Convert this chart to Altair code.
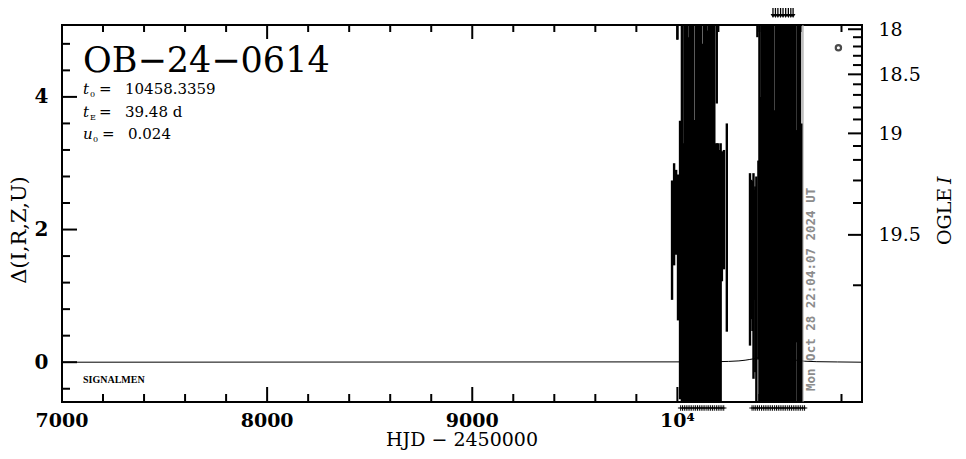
import altair as alt
import pandas as pd

# ---------------- data ----------------
# season 1 photometry: HJD-2450000, Delta flux, error
c1_hjd = [9974, 9984, 9994, 10000, 10003, 10013, 10022, 10028, 10034, 10040, 10047, 10053, 10059, 10066,
          10072, 10078, 10085, 10091, 10097, 10104, 10110, 10116, 10123, 10129, 10135, 10142, 10148, 10154,
          10161, 10167, 10173, 10180, 10186, 10192, 10194, 10199, 10205, 10211, 10217, 10227, 10241]
c1_delta = [1.84, 2.23, 2.26, 6.50, 1.73, 1.54, 2.30, 1.20, 2.40, 2.10, 2.60, 1.90, 2.20, 2.50,
            2.00, 2.30, 1.40, 2.40, 2.10, 2.70, 2.00, 2.30, 1.80, 2.50, 2.20, 2.40, 1.90, 2.60,
            2.10, 2.30, 2.00, 2.40, 1.30, 5.50, 1.20, 1.40, 1.00, 1.10, 2.20, 2.30, 2.03]
c1_err = [0.90, 0.77, 0.64, 1.64, 1.10, 2.10, 3.40, 2.10, 3.50, 3.30, 3.60, 3.00, 3.40, 3.70,
          3.10, 3.60, 2.25, 3.50, 3.20, 3.90, 3.30, 3.50, 3.00, 3.60, 3.40, 3.70, 3.10, 3.80,
          3.30, 3.50, 3.20, 3.60, 2.00, 1.60, 2.10, 1.90, 2.20, 2.20, 0.98, 0.90, 1.57]

# season 2 photometry
c2_hjd = [10354, 10360, 10366, 10371, 10376, 10380, 10385, 10390, 10395, 10400, 10405, 10410,
          10417, 10423, 10430, 10436, 10442, 10449, 10455, 10461, 10468, 10474,
          10480, 10487, 10493, 10499, 10506, 10512, 10518, 10525, 10531, 10537,
          10544, 10550, 10556, 10563, 10569, 10576,
          10583, 10588, 10592, 10598, 10604]
c2_delta = [1.55, 1.70, 1.60, 1.30, 1.77, 1.25, 1.10, 6.00, 1.54, 2.20, 1.60, 2.30,
            2.30, 2.00, 2.50, 2.20, 2.40, 2.10, 2.60, 2.30, 2.00, 1.60,
            2.40, 2.20, 2.50, 2.10, 2.30, 2.60, 2.00, 2.40, 2.20, 2.50,
            2.10, 2.30, 2.40, 2.00, 2.30, 2.20,
            1.90, 2.40, 1.40, 2.30, 1.50]
c2_err = [1.30, 1.05, 1.13, 1.55, 0.83, 1.40, 1.70, 1.10, 1.50, 2.90, 2.40, 3.40,
          3.50, 3.30, 3.60, 3.40, 3.70, 3.30, 3.80, 3.50, 3.20, 2.20,
          3.60, 3.40, 3.70, 3.30, 3.50, 3.80, 3.20, 3.60, 3.40, 3.70,
          3.30, 3.50, 3.60, 3.20, 3.50, 3.40,
          1.60, 3.50, 1.60, 3.40, 2.10]

# points above the plotted range (arrows) and below it (crosses)
high_hjd = [10466, 10478, 10490, 10503, 10515, 10528, 10541, 10553, 10564]
low_hjd = [10016, 10025, 10034, 10043, 10052, 10061, 10070, 10080, 10089, 10098, 10107, 10116,
           10125, 10134, 10144, 10153, 10162, 10171, 10180, 10190, 10199, 10208, 10217, 10226,
           10364, 10373, 10382, 10391, 10400, 10410, 10419, 10428, 10437, 10446, 10455, 10464,
           10474, 10483, 10492, 10501, 10510, 10519, 10528, 10538, 10547, 10556, 10565, 10574,
           10583, 10592, 10601, 10611, 10620]

# model curve
model_hjd = [7000, 10150, 10250, 10300, 10330, 10350, 10370, 10390, 10410, 10430, 10445, 10452, 10456,
             10458, 10460, 10464, 10471, 10486, 10506, 10530, 10560, 10590, 10620, 10680, 10780, 10900]
model_delta = [0.0, 0.005, 0.012, 0.02, 0.03, 0.04, 0.05, 0.065, 0.1, 0.3, 0.7, 1.8, 5.0,
               9.0, 5.0, 1.8, 0.8, 0.3, 0.14, 0.07, 0.04, 0.025, 0.015, 0.008, 0.004, 0.0]

# OGLE marker and "now" line
marker_hjd = [10785]
marker_delta = [4.74]
now_hjd = [10612]
now_text = ["Mon Oct 28 22:04:07 2024 UT"]

# axes
x_major = [7000, 8000, 9000, 10000]
x_major_labels = ["7000", "8000", "9000", "10\u2074"]
x_minor = [7200, 7400, 7600, 7800, 8200, 8400, 8600, 8800, 9200, 9400, 9600, 9800,
           10200, 10400, 10600, 10800]
y_major = [0, 2, 4]
y_minor = [-0.4, 0.4, 0.8, 1.2, 1.6, 2.4, 2.8, 3.2, 3.6, 4.4, 4.8]
ogle_mag = [18.0, 18.1, 18.2, 18.3, 18.4, 18.5, 18.6, 18.7, 18.8, 18.9,
            19.0, 19.1, 19.2, 19.3, 19.4, 19.5, 19.6]
ogle_delta = [5.02, 4.90, 4.76, 4.62, 4.48, 4.34, 4.19, 4.03, 3.84, 3.66,
              3.45, 3.26, 3.05, 2.74, 2.40, 1.92, 1.16]
ogle_major_labels = ["18", "18.5", "19", "19.5"]

x_title = "HJD \u2212 2450000"
y_title = "\u0394(I,R,Z,U)"
event_name = "OB\u221224\u22120614"
param_sym = ["t", "t", "u"]
param_sub = ["0", "E", "0"]
param_val = ["10458.3359", "39.48 d", "0.024"]
survey_name = "SIGNALMEN"

# ---------------- build ----------------
W, H = 800, 377
SERIF = "DejaVu Serif"
xs = alt.Scale(domain=[7000, 10900], nice=False, zero=False)
ys = alt.Scale(domain=[-0.6, 5.084], nice=False, zero=False)

phot = pd.DataFrame({
    "hjd": c1_hjd + c2_hjd,
    "delta": c1_delta + c2_delta,
    "err": c1_err + c2_err,
})
phot["lo"] = phot["delta"] - phot["err"]
phot["hi"] = phot["delta"] + phot["err"]

left_axis = alt.Axis(values=y_major, format="d", orient="left",
                     ticks=False, tickSize=0, domain=False, grid=False,
                     labelFont=SERIF, labelFontWeight="bold", labelFontSize=20, labelColor="black",
                     labelPadding=14, title=None)

major_pos = [d for m, d in zip(ogle_mag, ogle_delta) if ("%g" % m) in ogle_major_labels]
minor_pos = [d for m, d in zip(ogle_mag, ogle_delta) if ("%g" % m) not in ogle_major_labels]
right_expr = " : ".join(
    f"abs(datum.value - {d}) < 0.005 ? '{lab}'" for d, lab in zip(major_pos, ogle_major_labels)
) + " : ''"
right_axis = alt.Axis(values=major_pos, orient="right", labelExpr=right_expr,
                      ticks=False, tickSize=0, domain=False, grid=False,
                      labelFont=SERIF, labelFontSize=19, labelColor="black",
                      labelPadding=16, title=None)

bars = alt.Chart(phot).mark_rule(clip=True, color="black", strokeWidth=2.4).encode(
    x=alt.X("hjd:Q", scale=xs, axis=None),
    y=alt.Y("lo:Q", scale=ys, axis=left_axis),
    y2="hi:Q",
)

model = alt.Chart(pd.DataFrame({"hjd": model_hjd, "d": model_delta})).mark_line(
    clip=True, color="black", strokeWidth=1).encode(
    x=alt.X("hjd:Q", scale=xs, axis=None),
    y=alt.Y("d:Q", scale=ys, axis=None),
)

now_df = pd.DataFrame({"hjd": now_hjd, "t": now_text})
now_line = alt.Chart(now_df).mark_rule(color="#a0a0a0", strokeWidth=1.2).encode(
    x=alt.X("hjd:Q", scale=xs, axis=None),
    y=alt.value(0), y2=alt.value(H),
)
now_label = alt.Chart(now_df).mark_text(
    angle=270, align="left", baseline="top", dy=2, font="DejaVu Sans Mono",
    fontWeight="bold", fontSize=12.5, color="#8c8c8c").encode(
    x=alt.X("hjd:Q", scale=xs, axis=None), y=alt.value(366), text="t:N")

marker = alt.Chart(pd.DataFrame({"hjd": marker_hjd, "d": marker_delta})).mark_point(
    shape="circle", filled=False, color="black", size=28, strokeWidth=2.2).encode(
    x=alt.X("hjd:Q", scale=xs, axis=None), y=alt.Y("d:Q", scale=ys, axis=None))

high_df = pd.DataFrame({"hjd": high_hjd})
high_lines = alt.Chart(high_df).mark_rule(color="black", strokeWidth=1.3).encode(
    x=alt.X("hjd:Q", scale=xs, axis=None), y=alt.value(-17), y2=alt.value(-9))
high_heads = alt.Chart(high_df).mark_point(shape="triangle-down", filled=True, color="black",
                                           size=22, opacity=1).encode(
    x=alt.X("hjd:Q", scale=xs, axis=None), y=alt.value(-9))

low_marks = alt.Chart(pd.DataFrame({"hjd": low_hjd})).mark_point(
    shape="M-1,0H1M0,-1V1", filled=False, color="black", size=30, strokeWidth=1, opacity=1).encode(
    x=alt.X("hjd:Q", scale=xs, axis=None), y=alt.value(H + 6))

x_labels = alt.Chart(pd.DataFrame({"v": x_major, "t": x_major_labels})).mark_text(
    font=SERIF, fontWeight="bold", fontSize=19, color="black", align="center",
    baseline="alphabetic").encode(
    x=alt.X("v:Q", scale=xs, axis=None), y=alt.value(H + 25), text="t:N")


def xticks(vals, y1, y2):
    return alt.Chart(pd.DataFrame({"v": vals})).mark_rule(color="black", strokeWidth=2).encode(
        x=alt.X("v:Q", scale=xs, axis=None), y=alt.value(y1), y2=alt.value(y2))


def yticks(vals, x1, x2):
    return alt.Chart(pd.DataFrame({"v": vals})).mark_rule(color="black", strokeWidth=2).encode(
        y=alt.Y("v:Q", scale=ys, axis=None), x=alt.value(x1), x2=alt.value(x2))


tick_layers = [
    xticks(x_major[1:], H, H - 15), xticks(x_minor, H, H - 8),
    xticks(x_major[1:], 0, 14), xticks(x_minor, 0, 7),
    yticks(y_major, 0, 15), yticks(y_minor, 0, 8),
    yticks(minor_pos, W, W - 9),
]
right_major = alt.Chart(pd.DataFrame({"v": major_pos})).mark_rule(color="black", strokeWidth=2).encode(
    y=alt.Y("v:Q", scale=ys, axis=right_axis), x=alt.value(W), x2=alt.value(W - 14))


def txt(s, x, y, size, font=SERIF, style="normal", weight="normal", align="left",
        baseline="alphabetic", angle=0, color="black"):
    return alt.Chart(pd.DataFrame({"t": [s]})).mark_text(
        font=font, fontSize=size, fontStyle=style, fontWeight=weight, align=align,
        baseline=baseline, angle=angle, color=color).encode(
        x=alt.value(x), y=alt.value(y), text="t:N")


texts = [txt(event_name, 21, 47, 35)]
row_y = [69, 92, 114]
row_dx = [0, 0, 3]
for sym, sub, val, yy, dx in zip(param_sym, param_sub, param_val, row_y, row_dx):
    texts.append(txt(sym, 21, yy, 15, style="italic"))
    texts.append(txt(sub, 28 + dx, yy + 3, 8))
    texts.append(txt("=", 37 + dx, yy, 15))
    texts.append(txt(val, 63 + dx, yy, 15))
texts.append(txt(survey_name, 21, 358, 10, font="Liberation Serif", weight="bold"))
texts.append(txt("OGLE", 889, 220, 19, angle=270))
texts.append(txt("I", 889, 159, 19, angle=270, style="italic"))
texts.append(txt(y_title, -36, 205, 21, angle=270, align="center"))
texts.append(txt(x_title, W / 2, H + 44, 19, align="center"))

chart = alt.layer(
    *tick_layers, right_major, model, now_line, bars, now_label, marker,
    high_lines, high_heads, low_marks, x_labels, *texts
).resolve_axis(y="independent").properties(
    width=W, height=H,
    autosize=alt.AutoSizeParams(type="none"),
    padding={"left": 54, "top": 17, "right": 96, "bottom": 49},
    background="white",
).configure_view(stroke="black", strokeWidth=2)

chart.save("out.html", embed_options={"renderer": "svg", "actions": False})
